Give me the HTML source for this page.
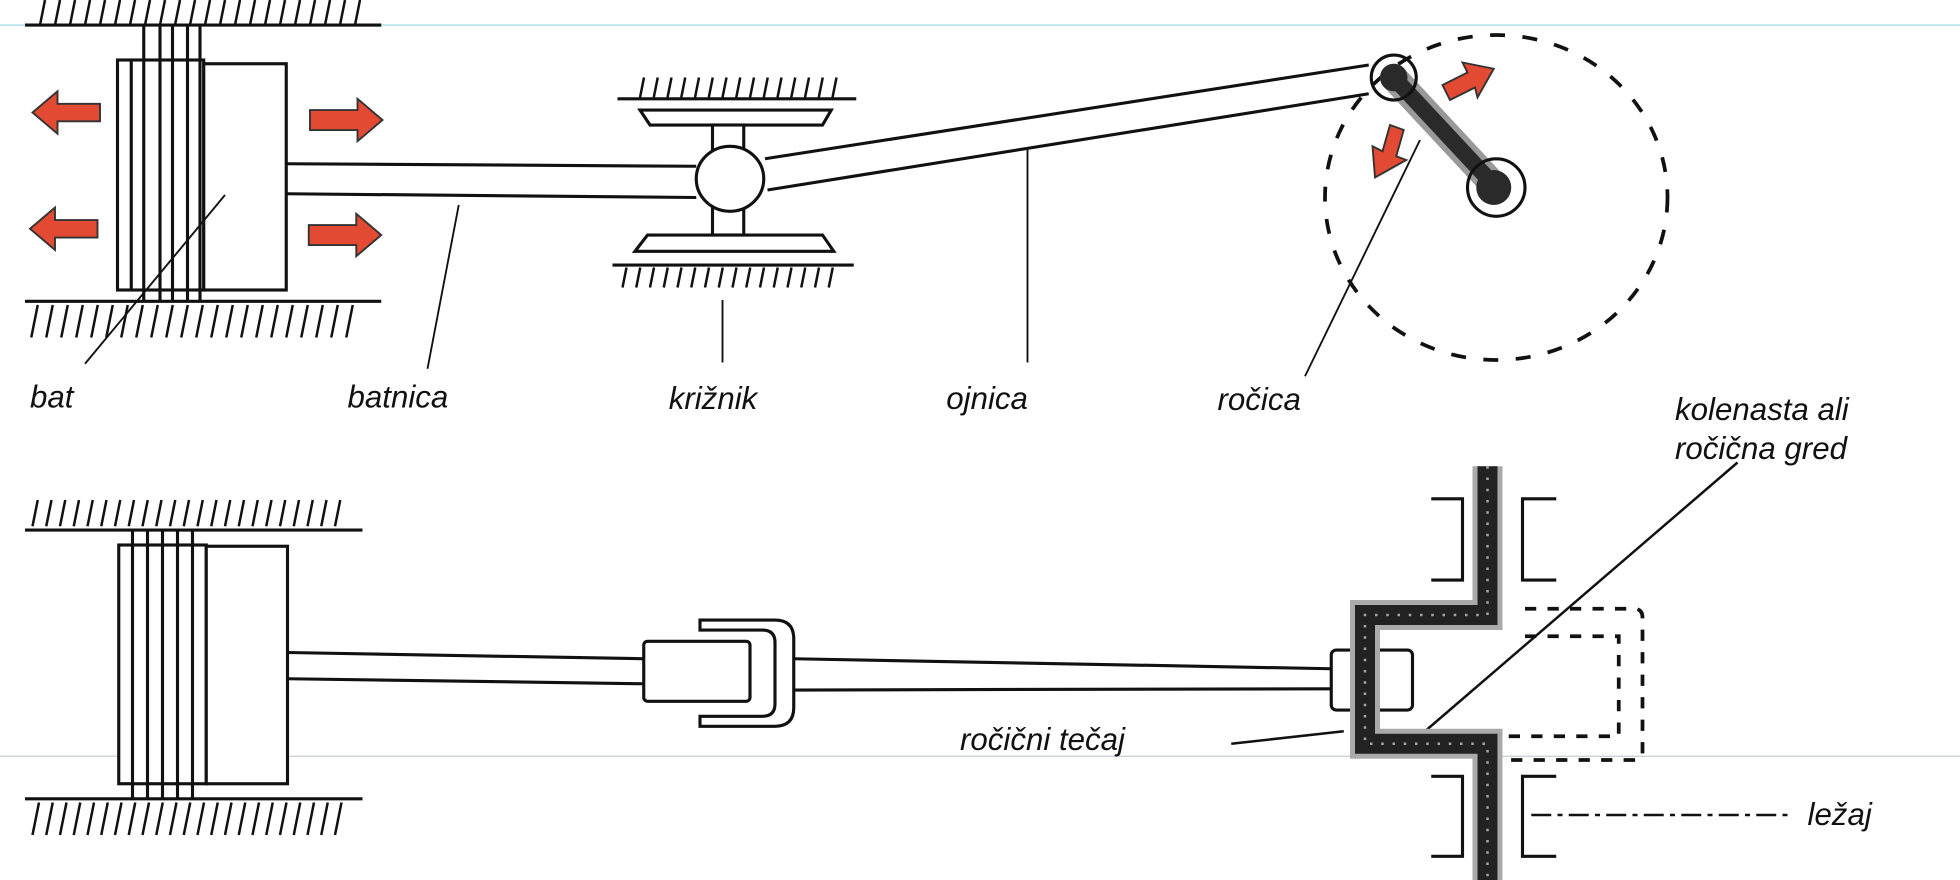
<!DOCTYPE html>
<html><head><meta charset="utf-8"><style>
html,body{margin:0;padding:0;background:#fff;}
svg{display:block;}
text{font-family:"Liberation Sans",sans-serif;font-style:italic;fill:#111;}
</style></head><body>
<svg id="s" width="1960" height="880" viewBox="0 0 1568 704" preserveAspectRatio="none" xmlns="http://www.w3.org/2000/svg">
<rect width="1568" height="704" fill="#fff"/>
<line x1="0" y1="20" x2="1568" y2="20" stroke="#bfe6ec" stroke-width="1.5"/>
<line x1="0" y1="605" x2="1568" y2="605" stroke="#c8ccd4" stroke-width="1"/>
<g id="hatch" stroke="#111" stroke-width="2"></g>
<g stroke="#111" fill="none" stroke-width="2.5">
<line x1="20" y1="20" x2="305" y2="20"/>
<line x1="20" y1="241" x2="305" y2="241"/>
<rect x="94" y="48" width="69" height="184" fill="#fff"/>
<line x1="105" y1="48" x2="105" y2="232"/>
<line x1="115" y1="20" x2="115" y2="241"/><line x1="128" y1="20" x2="128" y2="241"/>
<line x1="138" y1="20" x2="138" y2="241"/><line x1="150" y1="20" x2="150" y2="241"/>
<line x1="160" y1="20" x2="160" y2="241"/>
<rect x="163" y="51" width="66" height="181" fill="#fff"/>
<line x1="229" y1="131" x2="557" y2="133"/>
<line x1="229" y1="155" x2="557" y2="158"/>
<line x1="494" y1="79" x2="685" y2="79"/>
<path d="M512 88 H665 L658 100 H520 Z" fill="#fff"/>
<rect x="570" y="100" width="25" height="22" fill="#fff"/>
<rect x="570" y="165" width="25" height="23" fill="#fff"/>
<path d="M518 188 H658 L667 201 H508 Z" fill="#fff"/>
<line x1="490" y1="212" x2="683" y2="212"/>
<line x1="612" y1="127" x2="1095" y2="52"/>
<line x1="614" y1="152" x2="1095" y2="75"/>
<ellipse cx="584" cy="143" rx="27" ry="26" fill="#fff"/>
<ellipse cx="1197" cy="158" rx="137" ry="130" stroke-dasharray="12 14" stroke-width="3"/>
<line x1="1115" y1="62" x2="1197" y2="150" stroke="#999" stroke-width="22" stroke-linecap="round"/>
<line x1="1115" y1="62" x2="1197" y2="150" stroke="#2a2a2a" stroke-width="13" stroke-linecap="round"/>
<circle cx="1115" cy="62" r="18" fill="none"/>
<circle cx="1115" cy="62" r="11" fill="#2a2a2a" stroke="none"/>
<circle cx="1197" cy="150" r="23" fill="none"/>
<circle cx="1195" cy="150" r="14" fill="#2a2a2a" stroke="none"/>
<g stroke-width="1.5">
<line x1="68" y1="291" x2="180" y2="156"/>
<line x1="342" y1="295" x2="367" y2="164"/>
<line x1="578" y1="240" x2="578" y2="290"/>
<line x1="822" y1="118" x2="822" y2="290"/>
<line x1="1044" y1="301" x2="1136" y2="112"/>
<line x1="1390" y1="370" x2="1140" y2="585" stroke-width="2"/>
</g>
<line x1="20" y1="424" x2="290" y2="424"/>
<line x1="20" y1="639" x2="290" y2="639"/>
<rect x="95" y="436" width="70" height="191" fill="#fff"/>
<line x1="106" y1="424" x2="106" y2="639"/><line x1="118" y1="424" x2="118" y2="639"/>
<line x1="130" y1="424" x2="130" y2="639"/><line x1="142" y1="424" x2="142" y2="639"/>
<line x1="154" y1="424" x2="154" y2="639"/>
<rect x="165" y="437" width="65" height="190" fill="#fff"/>
<line x1="230" y1="522" x2="515" y2="527"/>
<line x1="230" y1="543" x2="515" y2="547"/>
<path d="M560 496 H620 Q635 496 635 511 V566 Q635 581 620 581 H560 V573 H610 Q620 573 620 563 V514 Q620 504 610 504 H560 Z" fill="#fff"/>
<rect x="515" y="513" width="85" height="48" rx="3" fill="#fff"/>
<line x1="635" y1="527" x2="1065" y2="535"/>
<line x1="635" y1="552" x2="1065" y2="551"/>
<rect x="1065" y="520" width="65" height="48" rx="4" fill="#fff"/>
<path d="M1190 373 V492 H1092 V595 H1190 V704" stroke="#aaa" stroke-width="24"/>
<path d="M1190 373 V492 H1092 V595 H1190 V704" stroke="#222" stroke-width="16"/>
<path d="M1190 373 V492 H1092 V595 H1190 V704" stroke="#fff" stroke-width="2" stroke-dasharray="2 7" opacity="0.6"/>
<path d="M1145 399 H1170 V464 H1145"/><path d="M1245 399 H1218 V464 H1245"/>
<path d="M1145 621 H1170 V685 H1145"/><path d="M1245 621 H1218 V685 H1245"/>
<path d="M1220 487 H1307 Q1314 487 1314 494 V603 Q1314 608 1306 608 H1205" stroke-dasharray="9 9" stroke-width="3"/>
<path d="M1220 509 H1295 V589 H1205" stroke-dasharray="9 9" stroke-width="3"/>
<line x1="1225" y1="652" x2="1430" y2="652" stroke-dasharray="16 5 4 5" stroke-width="2"/>
<line x1="985" y1="595" x2="1075" y2="585" stroke-width="2"/>
</g>
<g fill="#e24a33" stroke="#333" stroke-width="1.5">
<path d="M26 90 L46 73 V83 H80 V97 H46 V107 Z"/>
<path d="M24 183 L44 166 V176 H78 V190 H44 V200 Z"/>
<path d="M306 96 L286 79 V88 H248 V104 H286 V113 Z"/>
<path d="M305 188 L285 171 V180 H247 V196 H285 V205 Z"/>
<path d="M1195 55 L1170 50 L1174 58 L1154 68 L1160 80 L1180 70 L1182 78 Z"/>
<path d="M1100 142 L1098 117 L1106 121 L1112 100 L1123 104 L1117 125 L1125 128 Z"/>
</g>
<g font-size="25">
<text x="24" y="326">bat</text>
<text x="278" y="326">batnica</text>
<text x="535" y="327">križnik</text>
<text x="757" y="327">ojnica</text>
<text x="974" y="328">ročica</text>
<text x="1340" y="336">kolenasta ali</text>
<text x="1340" y="367">ročična gred</text>
<text x="768" y="600">ročični tečaj</text>
<text x="1446" y="660">ležaj</text>
</g>
</svg>
<script>
(function(){
var g=document.getElementById('hatch'),ns='http://www.w3.org/2000/svg';
function h(x0,x1,y0,y1,step){for(var x=x0;x<=x1;x+=step){var l=document.createElementNS(ns,'line');var dx=(y1-y0)*0.2;l.setAttribute('x1',x);l.setAttribute('y1',y1);l.setAttribute('x2',x+dx);l.setAttribute('y2',y0);g.appendChild(l);}}
h(32,290,0,20,12);
h(25,285,244,270,12);
h(512,676,62,78,11);
h(498,670,214,230,11);
h(26,276,400,421,11);
h(26,276,642,668,11);
})();
</script>
</body></html>
